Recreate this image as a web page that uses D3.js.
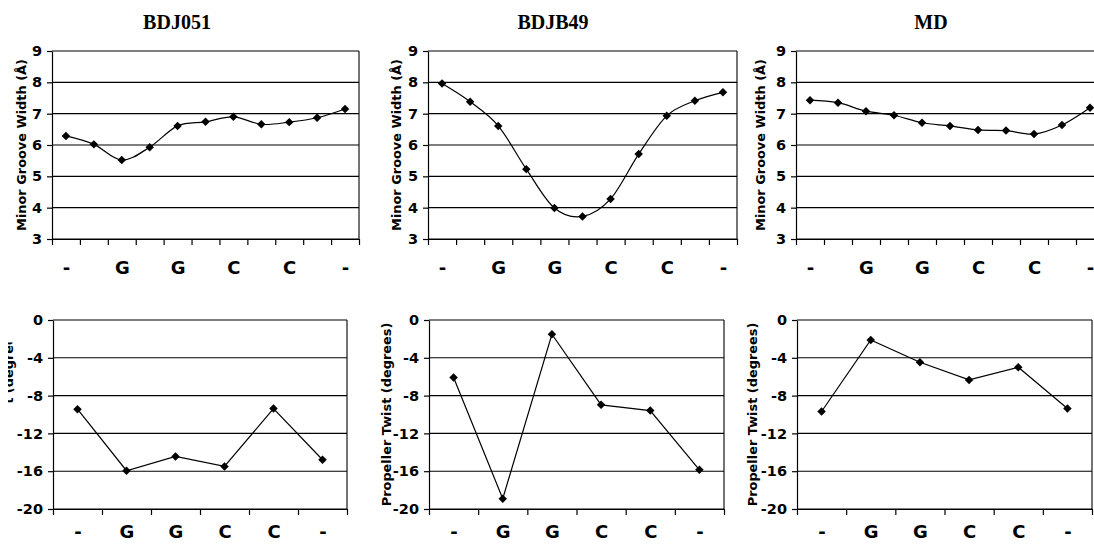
<!DOCTYPE html>
<html>
<head>
<meta charset="utf-8">
<script src="https://cdn.jsdelivr.net/npm/d3@7"></script>
<style>
body { margin: 0; background: #fff; }
svg text { font-family: "DejaVu Sans", Verdana, sans-serif; font-weight: bold; fill: #000; }
svg text.title { font-family: "Liberation Serif", "Times New Roman", serif; font-size: 20px; }
</style>
</head>
<body>
<div id="chart"></div>
<script>
// Categories along the x axis (blank steps between bases in the top row)
var widthSteps = ["-", "", "G", "", "G", "", "C", "", "C", "", "-"];
var twistSteps = ["-", "G", "G", "C", "C", "-"];

// Minor groove width (Å)
var bdj051Width = [6.29, 6.02, 5.52, 5.93, 6.61, 6.74, 6.90, 6.66, 6.73, 6.87, 7.15];
var bdjb49Width = [7.96, 7.38, 6.61, 5.23, 3.99, 3.72, 4.28, 5.71, 6.93, 7.41, 7.68];
var mdWidth = [7.43, 7.35, 7.08, 6.95, 6.71, 6.61, 6.48, 6.46, 6.35, 6.64, 7.19];

// Propeller twist (degrees)
var bdj051Twist = [-9.44, -15.95, -14.44, -15.49, -9.37, -14.79];
var bdjb49Twist = [-6.09, -18.91, -1.51, -8.98, -9.58, -15.85];
var mdTwist = [-9.68, -2.11, -4.47, -6.34, -5.00, -9.37];

// Tick labels
var widthTicks = [3, 4, 5, 6, 7, 8, 9];
var twistTicks = [0, -4, -8, -12, -16, -20];

var titles = ["BDJ051", "BDJB49", "MD"];

// Set up the SVG element
var svg = d3.select("#chart")
    .append("svg")
    .attr("width", 1094)
    .attr("height", 544);

// clip for the half-erased label at the far left
svg.append("clipPath")
    .attr("id", "cutLeft")
    .append("rect")
    .attr("x", 12).attr("y", 0)
    .attr("width", 60).attr("height", 544);

function drawPanel(p) {
    var n = p.steps.length;
    var x = d3.scaleLinear().domain([0, n]).range([p.left, p.right]);
    var y = d3.scaleLinear().domain(p.domain).range([p.bottom, p.top]);
    var g = svg.append("g");

    // Gridlines
    g.selectAll(".grid")
        .data(p.ticks)
        .enter()
        .append("line")
        .attr("x1", p.left)
        .attr("x2", p.right)
        .attr("y1", function (d) { return y(d); })
        .attr("y2", function (d) { return y(d); })
        .attr("stroke", "#000")
        .attr("stroke-width", 1.1);

    // Right border
    g.append("line")
        .attr("x1", p.right).attr("x2", p.right)
        .attr("y1", p.top).attr("y2", p.bottom)
        .attr("stroke", "#000")
        .attr("stroke-width", 1.1);

    // Left axis
    var yAxis = g.append("g")
        .attr("transform", "translate(" + p.left + ",0)")
        .call(d3.axisLeft(y)
            .tickValues(p.ticks)
            .tickSize(5)
            .tickSizeOuter(0)
            .tickPadding(5)
            .tickFormat(function (d) { return String(d); }));
    yAxis.selectAll("path, line").attr("stroke", "#000").attr("stroke-width", 1.2);
    yAxis.selectAll("text").style("font-size", "14.5px");

    // Bottom axis: tick marks between categories
    var xAxis = g.append("g")
        .attr("transform", "translate(0," + p.bottom + ")")
        .call(d3.axisBottom(x)
            .tickValues(d3.range(n + 1))
            .tickSize(6)
            .tickSizeOuter(0)
            .tickFormat(""));
    xAxis.selectAll("path, line").attr("stroke", "#000").attr("stroke-width", 1.2);

    // Bottom axis: category labels
    var xLabels = g.append("g")
        .attr("transform", "translate(0," + p.bottom + ")")
        .call(d3.axisBottom(x)
            .tickValues(d3.range(n).map(function (i) { return i + 0.5; }))
            .tickSize(0)
            .tickPadding(p.labelPad)
            .tickFormat(function (d) { return p.steps[Math.floor(d)]; }));
    xLabels.select(".domain").remove();
    xLabels.selectAll("text").style("font-size", "18px");

    // Data line
    var line = d3.line()
        .x(function (d, i) { return x(i + 0.5); })
        .y(function (d) { return y(d); })
        .curve(p.smooth ? d3.curveCardinal.tension(0) : d3.curveLinear);

    g.append("path")
        .datum(p.values)
        .attr("d", line)
        .attr("fill", "none")
        .attr("stroke", "#000")
        .attr("stroke-width", 1.2);

    // Diamond markers
    g.selectAll(".pt")
        .data(p.values)
        .enter()
        .append("path")
        .attr("class", "pt")
        .attr("d", d3.symbol(d3.symbolDiamond2, 46))
        .attr("transform", function (d, i) { return "translate(" + x(i + 0.5) + "," + y(d) + ")"; })
        .attr("fill", "#000");

    // y-axis label
    var lab = g.append("text")
        .attr("text-anchor", "middle")
        .attr("transform", "translate(" + p.labelX + "," + (p.top + p.bottom) / 2 + ") rotate(-90)")
        .attr("dy", "0.35em")
        .style("font-size", "12.9px")
        .text(p.label);
    if (p.clip) lab.attr("clip-path", "url(#cutLeft)");

    // Title
    if (p.title) {
        svg.append("text")
            .attr("class", "title")
            .attr("text-anchor", "middle")
            .attr("x", p.titleX)
            .attr("y", 29)
            .text(p.title);
    }
}

var widthLabel = "Minor Groove Width (Å)";
var twistLabel = "Propeller Twist (degrees)";

// Top row: minor groove width
drawPanel({ steps: widthSteps, values: bdj051Width, domain: [3, 9], ticks: widthTicks, smooth: true, labelPad: 22,
    left: 52, right: 359, top: 51, bottom: 239, labelX: 21, label: widthLabel, title: titles[0], titleX: 177 });
drawPanel({ steps: widthSteps, values: bdjb49Width, domain: [3, 9], ticks: widthTicks, smooth: true, labelPad: 22,
    left: 428, right: 737, top: 51, bottom: 239, labelX: 396, label: widthLabel, title: titles[1], titleX: 553 });
drawPanel({ steps: widthSteps, values: mdWidth, domain: [3, 9], ticks: widthTicks, smooth: true, labelPad: 22,
    left: 796, right: 1104, top: 51, bottom: 239, labelX: 760, label: widthLabel, title: titles[2], titleX: 931 });

// Bottom row: propeller twist
drawPanel({ steps: twistSteps, values: bdj051Twist, domain: [-20, 0], ticks: twistTicks, smooth: false, labelPad: 16,
    left: 53, right: 347, top: 320, bottom: 509, labelX: 8, label: twistLabel, clip: true });
drawPanel({ steps: twistSteps, values: bdjb49Twist, domain: [-20, 0], ticks: twistTicks, smooth: false, labelPad: 16,
    left: 429, right: 724, top: 320, bottom: 509, labelX: 386, label: twistLabel });
drawPanel({ steps: twistSteps, values: mdTwist, domain: [-20, 0], ticks: twistTicks, smooth: false, labelPad: 16,
    left: 797, right: 1092, top: 320, bottom: 509, labelX: 752, label: twistLabel });
</script>
</body>
</html>
